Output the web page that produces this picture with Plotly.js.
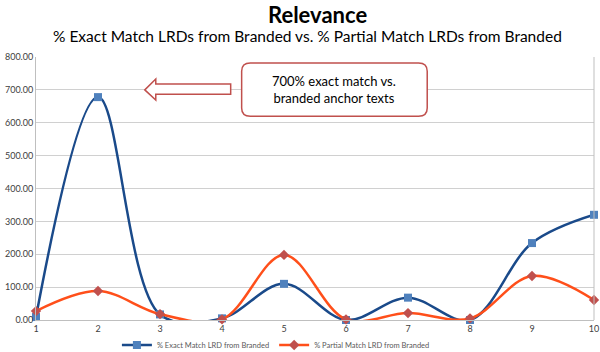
<!DOCTYPE html>
<html><head><meta charset="utf-8">
<script src="https://cdn.plot.ly/plotly-3.0.1.min.js"></script>
<style>html,body{margin:0;padding:0;background:#fff}#c{width:600px;height:352px}</style>
</head><body><div id="c"></div>
<script>
const categories = [1,2,3,4,5,6,7,8,9,10];
const exactMatch = [9, 678, 17, 5, 110, 0, 68, 0, 234, 320];
const partialMatch = [27, 88, 18, 2, 198, 2, 21, 5, 134, 61];
const seriesNames = ['% Exact Match LRD from Branded', '% Partial Match LRD from Branded'];
const yTicks = [0,100,200,300,400,500,600,700,800];
const titleText = 'Relevance';
const subtitleText = '% Exact Match LRDs from Branded vs. % Partial Match LRDs from Branded';

const traces = [
  {x: categories, y: exactMatch, name: seriesNames[0], type: 'scatter', mode: 'lines+markers',
   line: {shape: 'spline', smoothing: 1, color: '#1a4a8a', width: 2.5},
   marker: {symbol: 'square', size: 8, color: '#4f81bd'}, cliponaxis: false},
  {x: categories, y: partialMatch, name: seriesNames[1], type: 'scatter', mode: 'lines+markers',
   line: {shape: 'spline', smoothing: 1, color: '#ff4f1a', width: 2.5},
   marker: {symbol: 'diamond', size: 8, color: '#c0504d'}, cliponaxis: false}
];

function roundBox(x0,x1,y0,y1,rx,ry){
  return `M${x0+rx},${y1} L${x1-rx},${y1} Q${x1},${y1} ${x1},${y1-ry} L${x1},${y0+ry} Q${x1},${y0} ${x1-rx},${y0} L${x0+rx},${y0} Q${x0},${y0} ${x0},${y0+ry} L${x0},${y1-ry} Q${x0},${y1} ${x0+rx},${y1} Z`;
}
const FONT = 'Lato, "Open Sans", sans-serif';

const layout = {
  width: 600, height: 352,
  margin: {l: 36, r: 6, t: 57, b: 32, autoexpand: false},
  paper_bgcolor: '#fff', plot_bgcolor: '#fff',
  font: {family: FONT, color: '#595959'},
  xaxis: {range: [1, 10], tickvals: categories, ticktext: categories.map(String), showgrid: false, zeroline: false,
    showline: true, linecolor: '#bfbfbf', ticks: '', tickfont: {size: 9, color: '#404040'}, fixedrange: true, automargin: false},
  yaxis: {range: [0, 800], tickvals: yTicks, ticktext: yTicks.map(v => v.toFixed(2)), showgrid: true, gridcolor: '#d0d0d0', gridwidth: 1,
    zeroline: false, showline: true, linecolor: '#bfbfbf', ticks: '', tickfont: {size: 9, color: '#404040'}, fixedrange: true, automargin: false},
  showlegend: true,
  legend: {orientation: 'h', x: 0.145, xanchor: 'left', y: -0.095, yanchor: 'middle',
    font: {size: 7.5, color: '#595959'}, bgcolor: 'rgba(0,0,0,0)', itemwidth: 30},
  shapes: [
    {type: 'line', xref: 'paper', yref: 'paper', x0: 1, x1: 1, y0: 0, y1: 1, line: {color: '#bfbfbf', width: 1}},
    {type: 'path', xref: 'x', yref: 'y', path: roundBox(4.317, 7.31, 620, 782, 0.14, 25), line: {color: '#c0504d', width: 1.5}, fillcolor: '#fff'},
    {type: 'path', xref: 'x', yref: 'y', path: 'M2.755,700 L2.932,733 L2.932,718 L4.14,718 L4.14,687 L2.932,687 L2.932,669 Z', line: {color: '#c0504d', width: 1.5}, fillcolor: '#fff'}
  ],
  annotations: [
    {xref: 'paper', yref: 'paper', x: 0.5, y: 1.163, yanchor: 'middle', xshift: 2, text: '<b>' + titleText + '</b>', showarrow: false,
     font: {size: 22, color: '#000', family: FONT}},
    {xref: 'paper', yref: 'paper', x: 0.5, y: 1.08, yanchor: 'middle', xshift: -8, text: subtitleText, showarrow: false,
     font: {size: 15.5, color: '#000', family: FONT}},
    {xref: 'x', yref: 'y', x: 5.81, y: 701, text: '700% exact match vs.<br>branded anchor texts', showarrow: false,
     font: {size: 13, color: '#000', family: FONT}, align: 'center'}
  ]
};
Plotly.newPlot('c', traces, layout, {displayModeBar: false, staticPlot: true});
</script></body></html>
